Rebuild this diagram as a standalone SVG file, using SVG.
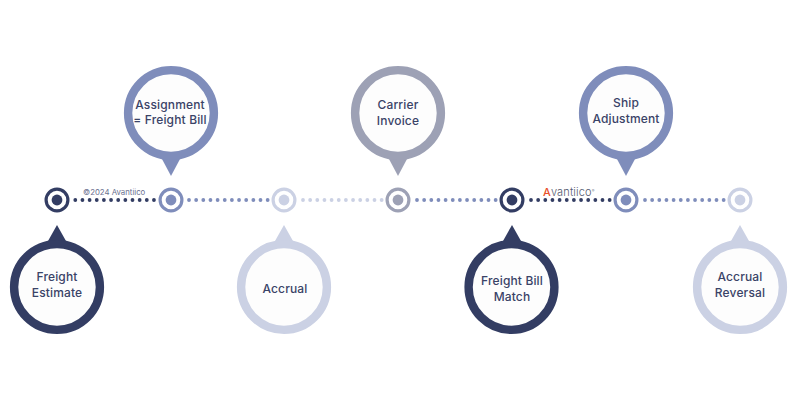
<svg xmlns="http://www.w3.org/2000/svg" width="800" height="400" viewBox="0 0 800 400">
<style>
text{font-family:"Inter","Noto Sans","Liberation Sans",sans-serif}
.l{font-size:12px;font-weight:500;letter-spacing:.15px;fill:#3a4367;text-anchor:middle}
.ring{fill:#fdfdfd;stroke-width:8.4}
.mk{fill:#fff;stroke-width:3.2}
.dk{stroke:#333d63;fill:#333d63}.md{stroke:#7f8dbb;fill:#7f8dbb}.lt{stroke:#cbd1e4;fill:#cbd1e4}.gr{stroke:#9da1b5;fill:#9da1b5}
.dots{fill:none;stroke-width:3.8;stroke-linecap:round;stroke-dasharray:0 7.15}
</style>
<rect width="800" height="400" fill="#fff"/>
<g id="connectors">
<path class="dots dk" d="M75.3 200H155"/>
<path class="dots md" d="M189 200H269"/>
<path class="dots lt" d="M303 200H383"/>
<path class="dots md" d="M417 200H497"/>
<path class="dots dk" d="M531 200H611"/>
<path class="dots md" d="M645 200H725"/>
</g>
<g id="n1"><circle class="mk dk" style="fill:#fff" cx="57" cy="200" r="10.9"/><circle cx="57" cy="200" r="5.4" fill="#333d63"/>
<path d="M48 241L57 225L66 241Z" fill="#333d63"/><circle class="ring" stroke="#333d63" cx="57" cy="287" r="42.9"/>
<text class="l" x="57" y="281">Freight</text><text class="l" x="57" y="297">Estimate</text></g>
<g id="n2"><circle class="mk md" style="fill:#fff" cx="171" cy="200" r="10.9"/><circle cx="171" cy="200" r="5.4" fill="#7f8dbb"/>
<path d="M162 159L171 176L180 159Z" fill="#7f8dbb"/><circle class="ring" stroke="#7f8dbb" cx="171" cy="113" r="42.9"/>
<text class="l" x="170" y="109">Assignment</text><text class="l" x="170" y="124">= Freight Bill</text></g>
<g id="n3"><circle class="mk lt" style="fill:#fff" cx="284" cy="200" r="10.9"/><circle cx="284" cy="200" r="5.4" fill="#cbd1e4"/>
<path d="M275 241L284 225L293 241Z" fill="#cbd1e4"/><circle class="ring" stroke="#cbd1e4" cx="284" cy="287" r="42.9"/>
<text class="l" x="285" y="293">Accrual</text></g>
<g id="n4"><circle class="mk gr" style="fill:#fff" cx="398" cy="200" r="10.9"/><circle cx="398" cy="200" r="5.4" fill="#9da1b5"/>
<path d="M389 159L398 176L407 159Z" fill="#9da1b5"/><circle class="ring" stroke="#9da1b5" cx="398" cy="113" r="42.9"/>
<text class="l" x="398" y="109">Carrier</text><text class="l" x="398" y="125">Invoice</text></g>
<g id="n5"><circle class="mk dk" style="fill:#fff" cx="512" cy="200" r="10.9"/><circle cx="512" cy="200" r="5.4" fill="#333d63"/>
<path d="M503 241L512 225L521 241Z" fill="#333d63"/><circle class="ring" stroke="#333d63" cx="511.500" cy="287" r="42.9"/>
<text class="l" x="512" y="285">Freight Bill</text><text class="l" x="512" y="301">Match</text></g>
<g id="n6"><circle class="mk md" style="fill:#fff" cx="626" cy="200" r="10.9"/><circle cx="626" cy="200" r="5.4" fill="#7f8dbb"/>
<path d="M617 159L626 176L635 159Z" fill="#7f8dbb"/><circle class="ring" stroke="#7f8dbb" cx="626" cy="113" r="42.9"/>
<text class="l" x="626" y="107">Ship</text><text class="l" x="626" y="123">Adjustment</text></g>
<g id="n7"><circle class="mk lt" style="fill:#fff" cx="740" cy="200" r="10.9"/><circle cx="740" cy="200" r="5.4" fill="#cbd1e4"/>
<path d="M731 241L740 225L749 241Z" fill="#cbd1e4"/><circle class="ring" stroke="#cbd1e4" cx="740" cy="287" r="42.9"/>
<text class="l" x="740" y="281">Accrual</text><text class="l" x="740" y="297">Reversal</text></g>
<text x="83" y="195" font-size="7.8" fill="#6b7190">©2024 Avantiico</text>
<text x="543" y="196" font-size="11" font-weight="300" fill="#555a70" letter-spacing=".15"><tspan fill="#e8502a" font-weight="500">A</tspan>vantiico<tspan font-size="4" dy="-4">®</tspan></text>
</svg>
